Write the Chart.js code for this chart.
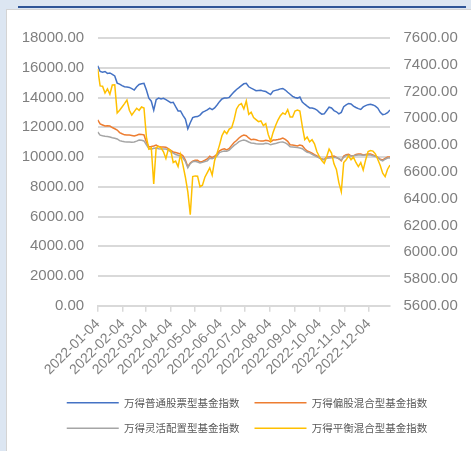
<!DOCTYPE html>
<html><head><meta charset="utf-8">
<script src="https://cdn.jsdelivr.net/npm/chart.js@4"></script>
<style>
html,body{margin:0;padding:0;}
body{width:471px;height:451px;background:#dce6f2;position:relative;overflow:hidden;}
#topline{position:absolute;left:18px;top:6px;width:448px;height:2px;background:#2f5597;}
#panel{position:absolute;left:6px;top:9px;width:465px;height:442px;background:#fff;border-top:1px solid #d4d4d4;border-left:1px solid #d4d4d4;box-sizing:border-box;}
#wrap{position:absolute;left:6px;top:9px;width:465px;height:442px;}
</style></head>
<body>
<div id="topline"></div><div id="panel"></div>
<div id="wrap"><canvas id="c" width="465" height="442"></canvas></div>
<script>
const seriesNames = ['万得普通股票型基金指数','万得偏股混合型基金指数','万得灵活配置型基金指数','万得平衡混合型基金指数'];
const tickLabels = ['2022-01-04','2022-02-04','2022-03-04','2022-04-04','2022-05-04','2022-06-04','2022-07-04','2022-08-04','2022-09-04','2022-10-04','2022-11-04','2022-12-04'];
const dates = [
'2022-01-04','2022-01-07','2022-01-10','2022-01-13','2022-01-16','2022-01-19','2022-01-22','2022-01-25','2022-01-28','2022-01-31',
'2022-02-03','2022-02-06','2022-02-09','2022-02-12','2022-02-15','2022-02-18','2022-02-21','2022-02-24','2022-02-27','2022-03-02',
'2022-03-05','2022-03-08','2022-03-11','2022-03-14','2022-03-17','2022-03-20','2022-03-23','2022-03-26','2022-03-29','2022-04-01',
'2022-04-04','2022-04-07','2022-04-10','2022-04-13','2022-04-16','2022-04-19','2022-04-22','2022-04-25','2022-04-28','2022-05-01',
'2022-05-04','2022-05-07','2022-05-10','2022-05-13','2022-05-16','2022-05-19','2022-05-22','2022-05-25','2022-05-28','2022-05-31',
'2022-06-03','2022-06-06','2022-06-09','2022-06-12','2022-06-15','2022-06-18','2022-06-21','2022-06-24','2022-06-27','2022-06-30',
'2022-07-03','2022-07-06','2022-07-09','2022-07-12','2022-07-15','2022-07-18','2022-07-21','2022-07-24','2022-07-27','2022-07-30',
'2022-08-02','2022-08-05','2022-08-08','2022-08-11','2022-08-14','2022-08-17','2022-08-20','2022-08-23','2022-08-26','2022-08-29',
'2022-09-01','2022-09-04','2022-09-07','2022-09-10','2022-09-13','2022-09-16','2022-09-19','2022-09-22','2022-09-25','2022-09-28',
'2022-10-01','2022-10-04','2022-10-07','2022-10-10','2022-10-13','2022-10-16','2022-10-19','2022-10-22','2022-10-25','2022-10-28',
'2022-10-31','2022-11-03','2022-11-06','2022-11-09','2022-11-12','2022-11-15','2022-11-18','2022-11-21','2022-11-24','2022-11-27',
'2022-11-30','2022-12-03','2022-12-06','2022-12-09','2022-12-12','2022-12-15','2022-12-18','2022-12-21','2022-12-24','2022-12-27',
'2022-12-30'];
const stockFund = [
16140,15750,15700,15750,15620,15650,15560,15450,14970,14900,
14800,14720,14700,14680,14600,14500,14720,14880,14920,14950,
14500,13950,13750,13150,13850,13960,13900,13950,13850,13750,
13650,13680,13380,13100,13100,12800,12550,11900,12300,12650,
12700,12720,12820,13000,13080,13170,13280,13180,13300,13500,
13720,13900,13960,13960,14010,14200,14380,14540,14660,14800,
14920,14950,14720,14630,14550,14460,14470,14480,14430,14400,
14300,14200,14430,14480,14520,14580,14610,14500,14350,14220,
14080,14000,13960,14030,13700,13550,13420,13300,13290,13250,
13160,13000,12880,12900,13130,13350,13300,13120,13040,12900,
13000,13380,13500,13600,13560,13420,13330,13250,13200,13370,
13450,13520,13550,13500,13420,13280,13000,12850,12880,12980,
13160];
const partialStockMix = [
12500,12220,12150,12080,12100,12080,11980,11900,11810,11640,
11560,11490,11480,11480,11450,11410,11460,11530,11520,11480,
11000,10680,10700,10740,10800,10700,10670,10680,10660,10560,
10450,10340,10300,10250,10200,10080,9800,9350,9600,9720,
9780,9780,9660,9700,9780,9870,10050,9950,10050,10200,
10420,10500,10550,10480,10570,10780,10980,11110,11280,11400,
11480,11430,11280,11160,11200,11160,11100,11080,11080,11120,
11100,11010,11140,11140,11170,11210,11270,11180,11050,10820,
10800,10780,10740,10800,10760,10560,10400,10340,10260,10160,
10070,9950,9860,9830,10000,10000,10030,10060,9970,9880,
9740,10070,10160,10180,10080,10080,10170,10200,10200,10140,
10170,10200,10200,10140,10080,9980,9860,9800,9900,10000,
10000];
const flexibleAlloc = [
11680,11470,11430,11400,11380,11350,11300,11260,11210,11100,
11060,11030,11010,11010,11000,11010,11070,11140,11120,11080,
10820,10560,10520,10590,10600,10560,10540,10540,10540,10460,
10350,10260,10170,10120,10050,9940,9700,9280,9550,9680,
9710,9660,9600,9640,9700,9740,9920,9880,9960,10070,
10300,10360,10400,10380,10460,10620,10780,10890,11030,11100,
11140,11090,11010,10940,10930,10890,10870,10870,10880,10930,
10900,10820,10870,10900,10960,11000,11010,10950,10850,10680,
10670,10660,10630,10600,10560,10420,10320,10280,10180,10100,
10010,9940,9860,9810,9920,9930,9950,9990,9950,9900,
9800,9980,10100,10100,10070,10080,10110,10130,10130,10120,
10130,10130,10130,10080,10030,9980,9800,9740,9850,9930,
9930];
const balancedMix = [
7368,7242,7240,7189,7220,7180,7249,7250,7040,7060,
7085,7110,7137,7060,7025,7050,7075,7060,7085,7077,
6860,6770,6780,6510,6780,6790,6780,6750,6700,6770,
6760,6670,6680,6640,6730,6651,6560,6450,6280,6565,
6570,6568,6489,6500,6560,6595,6630,6575,6685,6740,
6800,6870,6905,6885,6920,6930,6990,7070,7100,7110,
7070,7130,7030,7045,7005,6990,6975,6980,6945,6960,
6880,6830,6895,6945,6987,7020,7040,7030,7065,7010,
7010,7055,7062,7055,6940,6840,6860,6825,6840,6810,
6750,6715,6685,6664,6713,6770,6740,6660,6618,6520,
6452,6670,6690,6720,6690,6710,6670,6640,6670,6614,
6690,6752,6760,6755,6735,6692,6648,6590,6564,6620,
6651];

const DAY = 86400000;
const base = Date.parse(dates[0]);
const dayOf = s => Math.round((Date.parse(s) - base) / DAY);
const xs = dates.map(dayOf);
const tickDays = tickLabels.map(dayOf);
const pts = arr => arr.map((v, i) => ({x: xs[i], y: v}));

const colors = ['#4472C4', '#ED7D31', '#A5A5A5', '#FFC000'];
const values = [stockFund, partialStockMix, flexibleAlloc, balancedMix];
const datasets = values.map((arr, i) => ({
  label: seriesNames[i],
  data: pts(arr),
  borderColor: colors[i],
  backgroundColor: colors[i],
  borderWidth: 1.5,
  pointRadius: 0,
  tension: 0,
  yAxisID: i === 3 ? 'y1' : 'y',
  order: 4 - i
}));

const tickFont = {family: 'Liberation Sans, Arial, sans-serif', size: 15};
new Chart(document.getElementById('c'), {
  type: 'line',
  data: {datasets},
  options: {
    responsive: false,
    animation: false,
    events: [],
    layout: {padding: {left: 17, right: 0, top: 29, bottom: 7.5}},
    plugins: {
      tooltip: {enabled: false},
      legend: {
        position: 'bottom',
        labels: {
          usePointStyle: true,
          pointStyle: 'line',
          pointStyleWidth: 52,
          padding: 15,
          color: '#595959',
          font: {family: 'Noto Sans CJK SC', size: 10.5},
          sort: (a, b) => a.datasetIndex - b.datasetIndex
        }
      }
    },
    scales: {
      x: {
        type: 'linear',
        min: 0,
        max: xs[xs.length - 1],
        afterBuildTicks: s => { s.ticks = tickDays.map(v => ({value: v})); },
        afterFit: s => { s.height = 76.75; },
        ticks: {
          autoSkip: false,
          minRotation: 45,
          maxRotation: 45,
          padding: 4,
          color: '#7f7f7f',
          font: {family: 'Liberation Sans, Arial, sans-serif', size: 14},
          callback: v => { const i = tickDays.indexOf(v); return i >= 0 ? tickLabels[i] : ''; }
        },
        grid: {drawOnChartArea: false, drawTicks: true, tickLength: 6, color: '#d9d9d9', lineWidth: 1.5},
        border: {display: true, color: '#d9d9d9', width: 2}
      },
      y: {
        position: 'left',
        min: 0,
        max: 18000,
        afterFit: s => { s.width = 74.7; },
        ticks: {stepSize: 2000, padding: 13.5, color: '#7f7f7f', font: tickFont, callback: v => Number(v).toFixed(2)},
        grid: {color: '#d9d9d9', lineWidth: 2, drawTicks: false},
        border: {display: false}
      },
      y1: {
        position: 'right',
        min: 5600,
        max: 7600,
        afterFit: s => { s.width = 81; },
        ticks: {stepSize: 200, padding: 13.5, color: '#7f7f7f', font: tickFont, callback: v => Number(v).toFixed(2)},
        grid: {drawOnChartArea: false, drawTicks: false},
        border: {display: false}
      }
    }
  }
});
</script>
</body></html>
